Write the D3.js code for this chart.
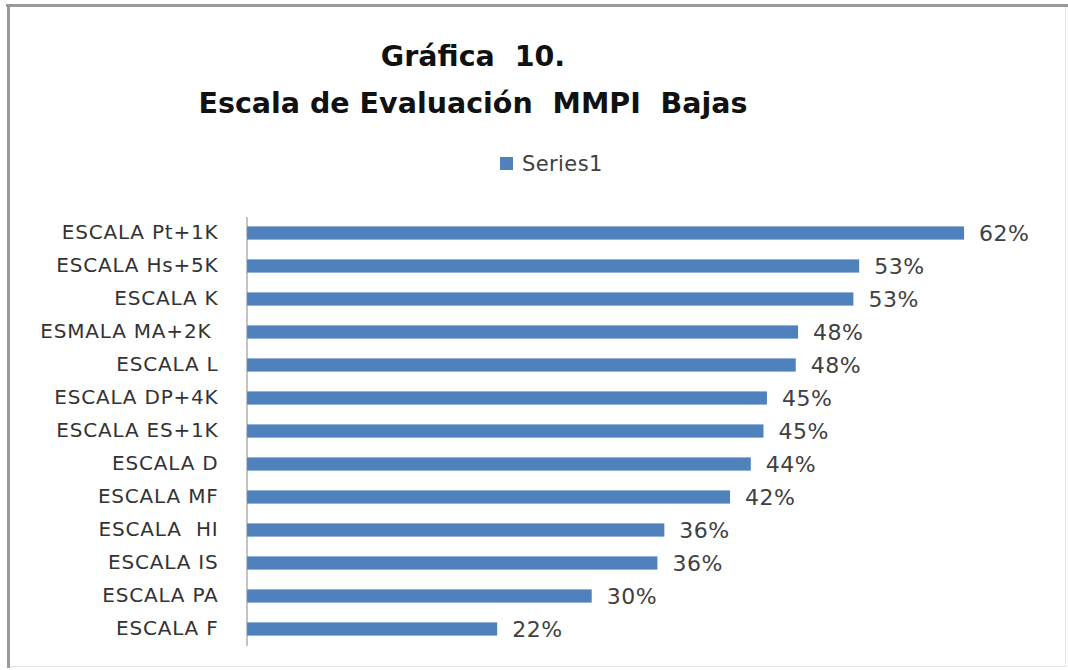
<!DOCTYPE html>
<html>
<head>
<meta charset="utf-8">
<script src="https://cdn.jsdelivr.net/npm/d3@7"></script>
<style>
  body { margin: 0; background: #fff; }
  text { white-space: pre; }
</style>
</head>
<body>
<div id="grafica"></div>
<script>
// Datos de la gráfica
var categorias = ["ESCALA Pt+1K", "ESCALA Hs+5K", "ESCALA K", "ESMALA MA+2K ", "ESCALA L",
    "ESCALA DP+4K", "ESCALA ES+1K", "ESCALA D", "ESCALA MF", "ESCALA  HI",
    "ESCALA IS", "ESCALA PA", "ESCALA F"]
var valores = [0.622, 0.531, 0.526, 0.478, 0.476, 0.451, 0.448, 0.437, 0.419, 0.362, 0.356, 0.299, 0.217]
var titulo = ["Gráfica  10.", "Escala de Evaluación  MMPI  Bajas"]
var serie = "Series1"

var width = 1068
var height = 670
var color = "#4F81BD"

var svg = d3.select("#grafica")
    .append("svg")
    .attr("width", width)
    .attr("height", height)

// Marco del gráfico
svg.append("rect")
    .attr("x", 8.5).attr("y", 5.5)
    .attr("width", 1057).attr("height", 661)
    .attr("fill", "#fff")
    .attr("stroke", "#e4e4e4")
svg.append("line")
    .attr("x1", 6).attr("x2", 1068).attr("y1", 5.5).attr("y2", 5.5)
    .attr("stroke", "#9a9a9a").attr("stroke-width", 3)
svg.append("line")
    .attr("x1", 8.5).attr("x2", 8.5).attr("y1", 4).attr("y2", 668)
    .attr("stroke", "#9a9a9a").attr("stroke-width", 3)

// Título
svg.append("g")
    .selectAll("text")
    .data(titulo)
    .join("text")
    .attr("x", 473)
    .attr("y", (d, i) => 66 + i * 47)
    .attr("text-anchor", "middle")
    .attr("font-family", "DejaVu Sans")
    .attr("font-weight", "bold")
    .attr("font-size", "28.5px")
    .attr("fill", "#111")
    .text(d => d)

// Leyenda
var leyenda = svg.append("g")
leyenda.append("rect")
    .attr("x", 500).attr("y", 157)
    .attr("width", 13).attr("height", 13)
    .attr("fill", color)
leyenda.append("text")
    .attr("x", 522).attr("y", 171)
    .attr("font-family", "DejaVu Sans")
    .attr("font-size", "21px")
    .attr("letter-spacing", "0.4px")
    .attr("fill", "#404040")
    .text(serie)

var margin = ({ top: 216.5, right: 14, bottom: 24.5, left: 247 })

var x = d3.scaleLinear()
    .domain([0, 0.7])
    .range([margin.left, width - margin.right])

var y = d3.scaleBand()
    .domain(categorias)
    .range([margin.top, height - margin.bottom])
    .paddingInner(0.6)
    .paddingOuter(0.3)

// Barras
svg.append("g")
    .attr("fill", color)
    .selectAll("rect")
    .data(valores)
    .join("rect")
    .attr("x", x(0))
    .attr("y", (d, i) => y(categorias[i]))
    .attr("width", d => x(d) - x(0))
    .attr("height", y.bandwidth())

// Etiquetas de valores
svg.append("g")
    .selectAll("text")
    .data(valores)
    .join("text")
    .attr("x", d => x(d) + 15)
    .attr("y", (d, i) => y(categorias[i]) + y.bandwidth() / 2)
    .attr("dy", "0.36em")
    .attr("font-family", "DejaVu Sans")
    .attr("font-size", "22px")
    .attr("letter-spacing", "0.5px")
    .attr("fill", "#404040")
    .text(d => d3.format(".0%")(d))

// Eje vertical con las categorías
var yAxis = g => g
    .attr("transform", "translate(" + (margin.left - 0.5) + ",0)")
    .call(d3.axisLeft(y).tickSize(0).tickPadding(28))
    .call(g => g.select(".domain").attr("stroke", "#888"))
    .call(g => g.selectAll("text")
        .attr("font-family", "DejaVu Sans")
        .attr("font-size", "20px")
        .attr("letter-spacing", "0.8px")
        .attr("fill", "#333"))

svg.append("g").call(yAxis)
</script>
</body>
</html>
